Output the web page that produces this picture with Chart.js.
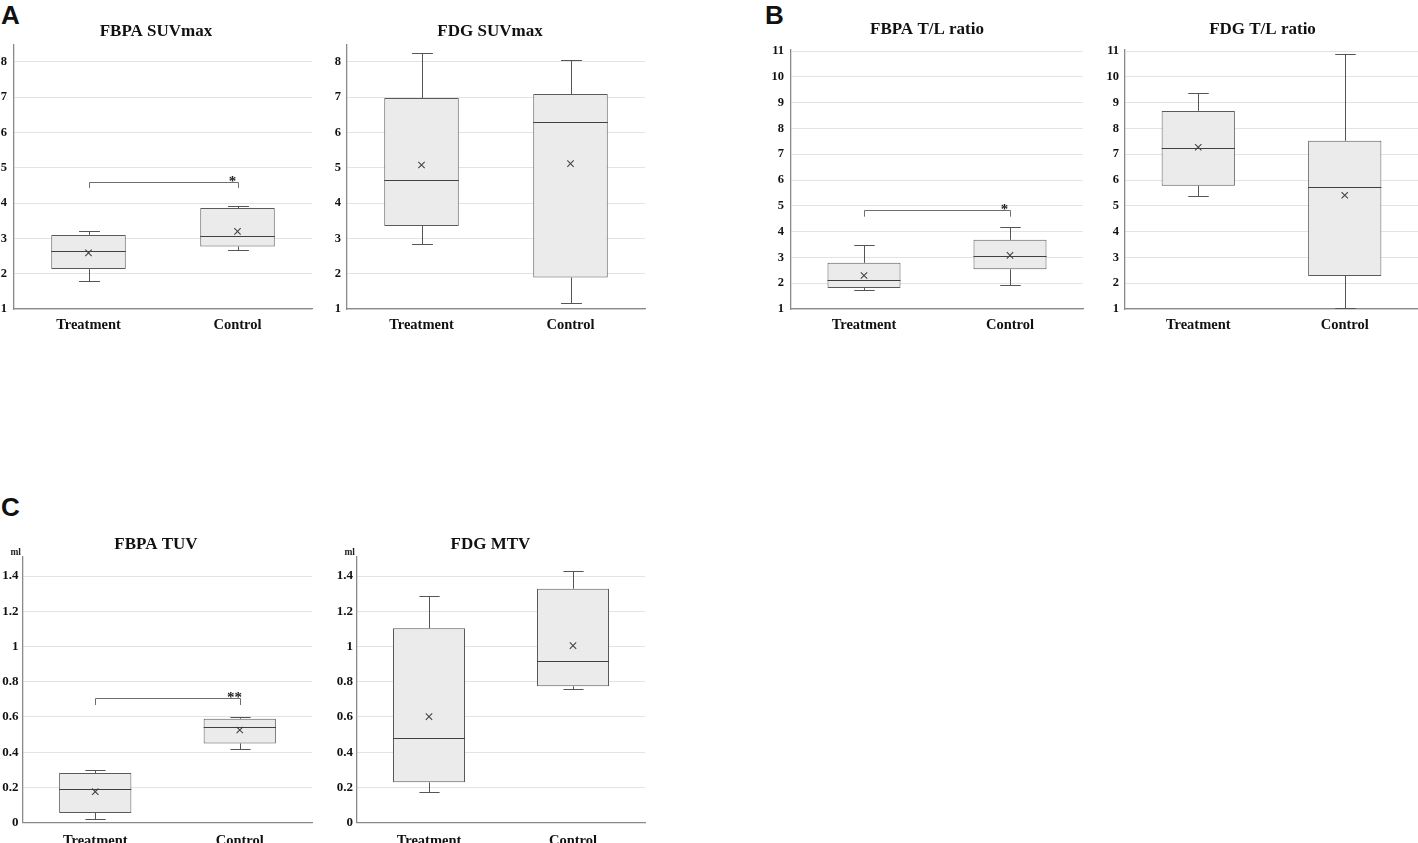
<!DOCTYPE html>
<html>
<head>
<meta charset="utf-8">
<script src="https://cdn.jsdelivr.net/npm/chart.js@4.4.0/dist/chart.umd.min.js"></script>
<style>
  html, body { margin: 0; padding: 0; background: #fff; }
  body { width: 1418px; height: 843px; overflow: hidden; position: relative; }
  canvas { position: absolute; }
  .letter { position: absolute; font-family: "Liberation Sans", Arial, sans-serif; font-weight: bold; font-size: 26px; line-height: 1; color: #111; }
</style>
</head>
<body>
<div class="letter" style="left:1px;top:2px">A</div>
<div class="letter" style="left:765px;top:2px">B</div>
<div class="letter" style="left:1px;top:494px">C</div>

<canvas id="a1"></canvas>
<canvas id="a2"></canvas>
<canvas id="b1"></canvas>
<canvas id="b2"></canvas>
<canvas id="c1"></canvas>
<canvas id="c2"></canvas>

<script>
// ---------------- DATA ----------------
const categories = ['Treatment', 'Control'];

// A: FBPA SUVmax
const fbpaSuvLow    = [1.78, 2.66];
const fbpaSuvQ1     = [2.13, 2.77];
const fbpaSuvMedian = [2.63, 3.06];
const fbpaSuvQ3     = [3.10, 3.86];
const fbpaSuvHigh   = [3.22, 3.91];
const fbpaSuvMean   = [2.59, 3.20];
const fbpaSuvSig    = [4.60, 4.43];   // bracket level, end-tick level
const fbpaSuvSigLabel = '*';

// A: FDG SUVmax
const fdgSuvLow    = [2.85, 1.17];
const fdgSuvQ1     = [3.35, 1.89];
const fdgSuvMedian = [4.66, 6.30];
const fdgSuvQ3     = [6.98, 7.09];
const fdgSuvHigh   = [8.26, 8.05];
const fdgSuvMean   = [5.08, 5.12];

// B: FBPA T/L ratio
const fbpaTlLow    = [1.75, 1.92];
const fbpaTlQ1     = [1.81, 2.54];
const fbpaTlMedian = [2.14, 3.06];
const fbpaTlQ3     = [2.79, 3.68];
const fbpaTlHigh   = [3.50, 4.17];
const fbpaTlMean   = [2.30, 3.08];
const fbpaTlSig    = [4.84, 4.58];
const fbpaTlSigLabel = '*';

// B: FDG T/L ratio
const fdgTlLow    = [5.38, 1.04];
const fdgTlQ1     = [5.78, 2.28];
const fdgTlMedian = [7.26, 5.71];
const fdgTlQ3     = [8.68, 7.52];
const fdgTlHigh   = [9.39, 10.90];
const fdgTlMean   = [7.27, 5.41];

// C: FBPA TUV (ml)
const fbpaTuvLow    = [0.019, 0.416];
const fbpaTuvQ1     = [0.055, 0.450];
const fbpaTuvMedian = [0.193, 0.541];
const fbpaTuvQ3     = [0.282, 0.590];
const fbpaTuvHigh   = [0.299, 0.602];
const fbpaTuvMean   = [0.176, 0.526];
const fbpaTuvSig    = [0.706, 0.668];
const fbpaTuvSigLabel = '**';

// C: FDG MTV (ml)
const fdgMtvLow    = [0.173, 0.761];
const fdgMtvQ1     = [0.229, 0.774];
const fdgMtvMedian = [0.479, 0.916];
const fdgMtvQ3     = [1.103, 1.328];
const fdgMtvHigh   = [1.287, 1.429];
const fdgMtvMean   = [0.602, 1.005];

// Tick values / labels
const suvTicks = [1, 2, 3, 4, 5, 6, 7, 8];
const suvTickLabels = ['1', '2', '3', '4', '5', '6', '7', '8'];
const tlTicks = [1, 2, 3, 4, 5, 6, 7, 8, 9, 10, 11];
const tlTickLabels = ['1', '2', '3', '4', '5', '6', '7', '8', '9', '10', '11'];
const volTicks = [0, 0.2, 0.4, 0.6, 0.8, 1, 1.2, 1.4];
const volTickLabels = ['0', '0.2', '0.4', '0.6', '0.8', '1', '1.2', '1.4'];
const volUnit = 'ml';

// ---------------- PANELS ----------------
const panelData = {
  a1: { title: 'FBPA SUVmax', low: fbpaSuvLow, q1: fbpaSuvQ1, med: fbpaSuvMedian, q3: fbpaSuvQ3, high: fbpaSuvHigh, mean: fbpaSuvMean, ticks: suvTicks, tickLabels: suvTickLabels, yRange: [1, 8.48], sig: fbpaSuvSig, sigLabel: fbpaSuvSigLabel },
  a2: { title: 'FDG SUVmax', low: fdgSuvLow, q1: fdgSuvQ1, med: fdgSuvMedian, q3: fdgSuvQ3, high: fdgSuvHigh, mean: fdgSuvMean, ticks: suvTicks, tickLabels: suvTickLabels, yRange: [1, 8.48] },
  b1: { title: 'FBPA T/L ratio', low: fbpaTlLow, q1: fbpaTlQ1, med: fbpaTlMedian, q3: fbpaTlQ3, high: fbpaTlHigh, mean: fbpaTlMean, ticks: tlTicks, tickLabels: tlTickLabels, yRange: [1, 11.04], sig: fbpaTlSig, sigLabel: fbpaTlSigLabel },
  b2: { title: 'FDG T/L ratio', low: fdgTlLow, q1: fdgTlQ1, med: fdgTlMedian, q3: fdgTlQ3, high: fdgTlHigh, mean: fdgTlMean, ticks: tlTicks, tickLabels: tlTickLabels, yRange: [1, 11.04] },
  c1: { title: 'FBPA TUV', low: fbpaTuvLow, q1: fbpaTuvQ1, med: fbpaTuvMedian, q3: fbpaTuvQ3, high: fbpaTuvHigh, mean: fbpaTuvMean, ticks: volTicks, tickLabels: volTickLabels, yRange: [0, 1.508], sig: fbpaTuvSig, sigLabel: fbpaTuvSigLabel, unit: volUnit },
  c2: { title: 'FDG MTV', low: fdgMtvLow, q1: fdgMtvQ1, med: fdgMtvMedian, q3: fdgMtvQ3, high: fdgMtvHigh, mean: fdgMtvMean, ticks: volTicks, tickLabels: volTickLabels, yRange: [0, 1.508], unit: volUnit }
};

// Layout (positions / sizes) kept separate from data
const panelLayout = {
  a1: { left: 0,    top: 0,   w: 314, h: 340, padTop: 21.3, padRight: 2, yW: 14, yPad: 7, xH: 31,   xPad: 8, titleGap: 3.3, tickSize: 12.5 },
  a2: { left: 335,  top: 0,   w: 312, h: 340, padTop: 21.3, padRight: 2, yW: 12, yPad: 6, xH: 31,   xPad: 8, titleGap: 3.3, tickSize: 12.5 },
  b1: { left: 771,  top: 0,   w: 314, h: 340, padTop: 19.8, padRight: 2, yW: 20, yPad: 7, xH: 31,   xPad: 8, titleGap: 9.8, tickSize: 12.5 },
  b2: { left: 1107, top: 0,   w: 311, h: 340, padTop: 19.8, padRight: 0, yW: 18, yPad: 6, xH: 31,   xPad: 8, titleGap: 9.8, tickSize: 12.5 },
  c1: { left: 0,    top: 490, w: 314, h: 353, padTop: 44.8, padRight: 2, yW: 23, yPad: 4.5, xH: 20.3, xPad: 10, titleGap: 1.8, tickSize: 13 },
  c2: { left: 336,  top: 490, w: 311, h: 353, padTop: 44.8, padRight: 2, yW: 21, yPad: 4, xH: 20.3, xPad: 10, titleGap: 1.8, tickSize: 13 }
};

const SERIF = '"Liberation Serif", "Times New Roman", serif';

const boxExtras = {
  id: 'boxExtras',
  beforeDatasetsDraw(chart) {
    const d = panelData[chart.canvas.id];
    const meta = chart.getDatasetMeta(0);
    const y = chart.scales.y;
    const ctx = chart.ctx;
    ctx.save();
    ctx.strokeStyle = '#555';
    ctx.lineWidth = 1;
    meta.data.forEach((bar, i) => {
      const x = Math.round(bar.x) + 0.5;
      const cap = bar.width * 0.14;
      const yH = Math.round(y.getPixelForValue(d.high[i])) + 0.5;
      const yQ3 = y.getPixelForValue(d.q3[i]);
      const yQ1 = y.getPixelForValue(d.q1[i]);
      const yL = Math.round(y.getPixelForValue(d.low[i])) + 0.5;
      ctx.beginPath();
      ctx.moveTo(x, yQ3); ctx.lineTo(x, yH);
      ctx.moveTo(x - cap, yH); ctx.lineTo(x + cap, yH);
      ctx.moveTo(x, yQ1); ctx.lineTo(x, yL);
      ctx.moveTo(x - cap, yL); ctx.lineTo(x + cap, yL);
      ctx.stroke();
    });
    ctx.restore();
  },
  afterDatasetDraw(chart, args) {
    if (args.index !== 0) return;
    const d = panelData[chart.canvas.id];
    const meta = chart.getDatasetMeta(0);
    const y = chart.scales.y;
    const ctx = chart.ctx;
    ctx.save();
    ctx.strokeStyle = '#404040';
    ctx.lineWidth = 1.2;
    meta.data.forEach((bar, i) => {
      const ym = Math.round(y.getPixelForValue(d.med[i])) + 0.5;
      ctx.beginPath();
      ctx.moveTo(bar.x - bar.width / 2, ym);
      ctx.lineTo(bar.x + bar.width / 2, ym);
      ctx.stroke();
    });
    ctx.restore();
  },
  afterDatasetsDraw(chart) {
    const d = panelData[chart.canvas.id];
    const ctx = chart.ctx;
    const xs = chart.scales.x, y = chart.scales.y;
    if (d.sig) {
      const x0 = Math.round(xs.getPixelForValue(0)) + 0.5;
      const x1 = Math.round(xs.getPixelForValue(1)) + 0.5;
      const yb = Math.round(y.getPixelForValue(d.sig[0])) + 0.5;
      const yt = y.getPixelForValue(d.sig[1]);
      ctx.save();
      ctx.strokeStyle = '#6e6e6e';
      ctx.lineWidth = 1;
      ctx.beginPath();
      ctx.moveTo(x0, yt); ctx.lineTo(x0, yb); ctx.lineTo(x1, yb); ctx.lineTo(x1, yt);
      ctx.stroke();
      ctx.fillStyle = '#222';
      ctx.font = 'bold 15px ' + SERIF;
      ctx.textAlign = 'center';
      ctx.textBaseline = 'alphabetic';
      ctx.fillText(d.sigLabel, x1 - 6, yb + 3);
      ctx.restore();
    }
    if (d.unit) {
      const a = chart.chartArea;
      ctx.save();
      ctx.fillStyle = '#222';
      ctx.font = 'bold 9.5px ' + SERIF;
      ctx.textAlign = 'right';
      ctx.textBaseline = 'middle';
      ctx.fillText(d.unit, a.left - 2, a.top - 4);
      ctx.restore();
    }
  }
};

function makePanel(id) {
  const d = panelData[id];
  const L = panelLayout[id];
  const cv = document.getElementById(id);
  cv.width = L.w; cv.height = L.h;
  cv.style.left = L.left + 'px'; cv.style.top = L.top + 'px';
  cv.style.width = L.w + 'px'; cv.style.height = L.h + 'px';
  return new Chart(cv, {
    data: {
      labels: categories,
      datasets: [
        {
          type: 'bar',
          data: d.q1.map((v, i) => [v, d.q3[i]]),
          backgroundColor: '#ebebeb',
          borderColor: '#5a5a5a',
          borderWidth: 1,
          borderSkipped: false,
          barPercentage: 1,
          categoryPercentage: 0.5,
          order: 2
        },
        {
          type: 'line',
          data: d.mean,
          showLine: false,
          pointStyle: 'crossRot',
          pointRadius: 4.5,
          pointBorderColor: '#444',
          pointBorderWidth: 1.1,
          order: 1
        }
      ]
    },
    options: {
      responsive: false,
      animation: false,
      events: [],
      layout: { autoPadding: false, padding: { top: L.padTop, right: L.padRight, left: 0, bottom: 0 } },
      plugins: {
        legend: { display: false },
        tooltip: { enabled: false },
        title: {
          display: true,
          text: d.title,
          color: '#111',
          font: { family: SERIF, size: 17, weight: 'bold', lineHeight: 1.2 },
          padding: { top: 0, bottom: L.titleGap }
        }
      },
      scales: {
        x: {
          type: 'category',
          offset: true,
          grid: { display: false, drawTicks: false },
          border: { display: true, color: '#8a8a8a', width: 1.3 },
          ticks: { color: '#111', padding: L.xPad, font: { family: SERIF, size: 14.5, weight: 'bold' }, maxRotation: 0 },
          afterFit: s => { s.height = L.xH; }
        },
        y: {
          type: 'linear',
          min: d.yRange[0],
          max: d.yRange[1],
          afterBuildTicks: s => { s.ticks = d.ticks.map(v => ({ value: v })); },
          grid: { color: '#e3e3e3', lineWidth: 1, drawTicks: false },
          border: { display: true, color: '#8a8a8a', width: 1.3 },
          ticks: {
            color: '#111',
            padding: L.yPad,
            font: { family: SERIF, size: L.tickSize, weight: 'bold' },
            callback: (v, i) => d.tickLabels[i]
          },
          afterFit: s => { s.width = L.yW; }
        }
      }
    },
    plugins: [boxExtras]
  });
}

['a1', 'a2', 'b1', 'b2', 'c1', 'c2'].forEach(makePanel);
</script>
</body>
</html>
